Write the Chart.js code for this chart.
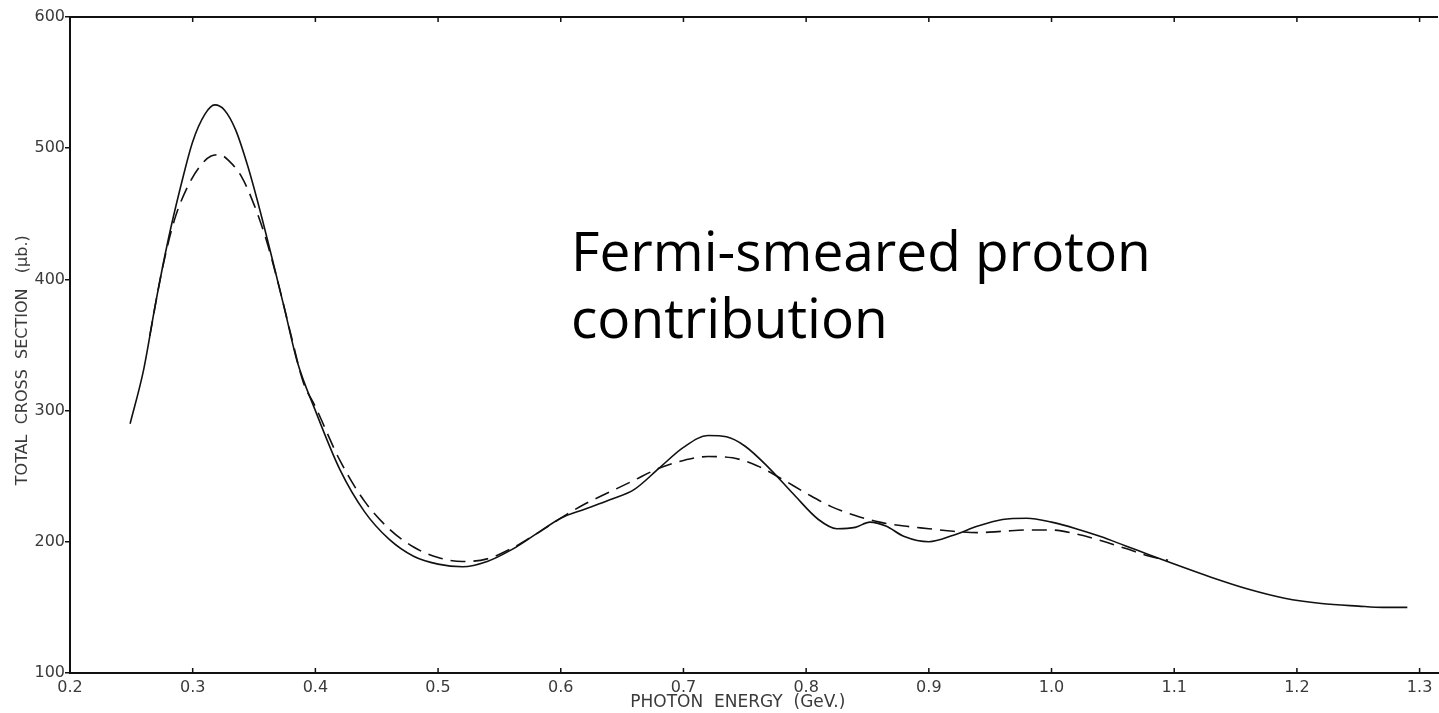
<!DOCTYPE html>
<html>
<head>
<meta charset="utf-8">
<script src="https://cdn.jsdelivr.net/npm/chart.js@4"></script>
<style>
  body { margin: 0; background: #fff; }
  #wrap { position: relative; width: 1439px; height: 713px; }
  #note {
    position: absolute; left: 571px; top: 216px;
    font-family: "Open Sans", sans-serif; font-size: 55px; line-height: 67px;
    color: #000; white-space: nowrap;
  }
</style>
</head>
<body>
<div id="wrap">
  <canvas id="myChart"></canvas>
  <div id="note">Fermi-smeared proton<br>contribution</div>
</div>
<script>
// full curve (solid)
var energySolid = [0.249,0.26,0.27,0.28,0.29,0.30,0.31,0.318,0.326,0.335,0.345,0.355,0.365,0.375,0.385,0.40,0.42,0.44,0.46,0.48,0.50,0.52,0.54,0.56,0.58,0.60,0.62,0.64,0.66,0.68,0.70,0.72,0.735,0.75,0.77,0.79,0.81,0.825,0.84,0.852,0.865,0.88,0.90,0.92,0.94,0.96,0.98,1.00,1.02,1.04,1.06,1.08,1.10,1.13,1.16,1.19,1.22,1.25,1.27,1.29];
var sigmaSolid = [290,331,383,430,470,505,526,533,529,514,486,452,415,377,338,300,255,223,202,189,183,181,185,194,206,218,225,232,240,256,272,281,280,273,256,236,217,210,211,215,212,204,200,205,212,217,218,215,210,204,197,190,183,173,164,157,153,151,150,150];

// smeared curve (dashed)
var energyDashed = [0.265,0.275,0.285,0.295,0.305,0.315,0.322,0.33,0.34,0.35,0.36,0.37,0.38,0.39,0.40,0.42,0.44,0.46,0.48,0.50,0.52,0.54,0.56,0.58,0.60,0.62,0.64,0.66,0.68,0.70,0.72,0.74,0.76,0.78,0.80,0.82,0.84,0.86,0.88,0.90,0.92,0.94,0.96,0.98,1.00,1.02,1.04,1.06,1.08,1.095];
var sigmaDashed = [357,407,445,469,485,494,495,490,478,457,430,396,358,322,303,262,231,210,196,188,185,187,195,206,218,229,238,247,256,262,265,264,258,248,237,227,220,215,212,210,208,207,208,209,209,206,201,195,189,186];

var xTicks = [0.2,0.3,0.4,0.5,0.6,0.7,0.8,0.9,1.0,1.1,1.2,1.3];
var yTicks = [100,200,300,400,500,600];

const toPoints = (xs, ys) => xs.map((x, i) => ({x: x, y: ys[i]}));

const ink = '#111';
const labelColor = '#3a3a3a';

// top frame line plus inward tick marks on top and bottom edges
const frame = {
  id: 'frame',
  afterDraw(chart) {
    const {ctx, chartArea: a, scales: {x}} = chart;
    ctx.save();
    ctx.strokeStyle = ink;
    ctx.lineWidth = 2;
    ctx.beginPath();
    ctx.moveTo(a.left, a.top);
    ctx.lineTo(a.right, a.top);
    ctx.stroke();
    ctx.lineWidth = 1.5;
    for (const v of xTicks) {
      const px = x.getPixelForValue(v);
      ctx.beginPath();
      ctx.moveTo(px, a.bottom);
      ctx.lineTo(px, a.bottom - 5);
      ctx.moveTo(px, a.top);
      ctx.lineTo(px, a.top + 5);
      ctx.stroke();
    }
    ctx.restore();
  }
};

new Chart("myChart", {
  type: "line",
  data: {
    datasets: [{
      data: toPoints(energySolid, sigmaSolid),
      borderColor: ink,
      borderWidth: 1.6,
      pointRadius: 0,
      cubicInterpolationMode: 'monotone'
    }, {
      data: toPoints(energyDashed, sigmaDashed),
      borderColor: ink,
      borderWidth: 1.6,
      borderDash: [15, 8],
      pointRadius: 0,
      cubicInterpolationMode: 'monotone'
    }]
  },
  options: {
    responsive: true,
    maintainAspectRatio: false,
    animation: false,
    layout: { padding: { top: 17, right: 1, left: 0, bottom: 0 } },
    plugins: { legend: { display: false }, tooltip: { enabled: false } },
    scales: {
      x: {
        type: 'linear',
        min: 0.2,
        max: 1.315,
        afterBuildTicks: s => { s.ticks = xTicks.map(v => ({value: v})); },
        afterFit: s => { s.height = 40; },
        grid: { display: false },
        border: { display: true, color: ink, width: 2 },
        ticks: {
          padding: -3,
          color: labelColor,
          font: { family: 'DejaVu Sans', size: 16 },
          callback: v => v.toFixed(1)
        },
        title: {
          display: true,
          text: 'PHOTON  ENERGY  (GeV.)      ',
          color: labelColor,
          font: { family: 'DejaVu Sans', size: 17 },
          padding: { top: 0, bottom: 0 }
        }
      },
      y: {
        min: 100,
        max: 600,
        afterBuildTicks: s => { s.ticks = yTicks.map(v => ({value: v})); },
        afterFit: s => { s.width = 70; },
        grid: { drawOnChartArea: false, drawTicks: true, tickLength: 5, color: ink, lineWidth: 1.5 },
        border: { display: true, color: ink, width: 2 },
        ticks: {
          padding: 0,
          color: labelColor,
          font: { family: 'DejaVu Sans', size: 16 }
        },
        title: {
          display: true,
          text: 'TOTAL  CROSS  SECTION   (\u03bcb.)      ',
          color: labelColor,
          font: { family: 'DejaVu Sans', size: 16 },
          padding: { top: 13, bottom: 0 }
        }
      }
    }
  },
  plugins: [frame]
});
</script>
</body>
</html>
